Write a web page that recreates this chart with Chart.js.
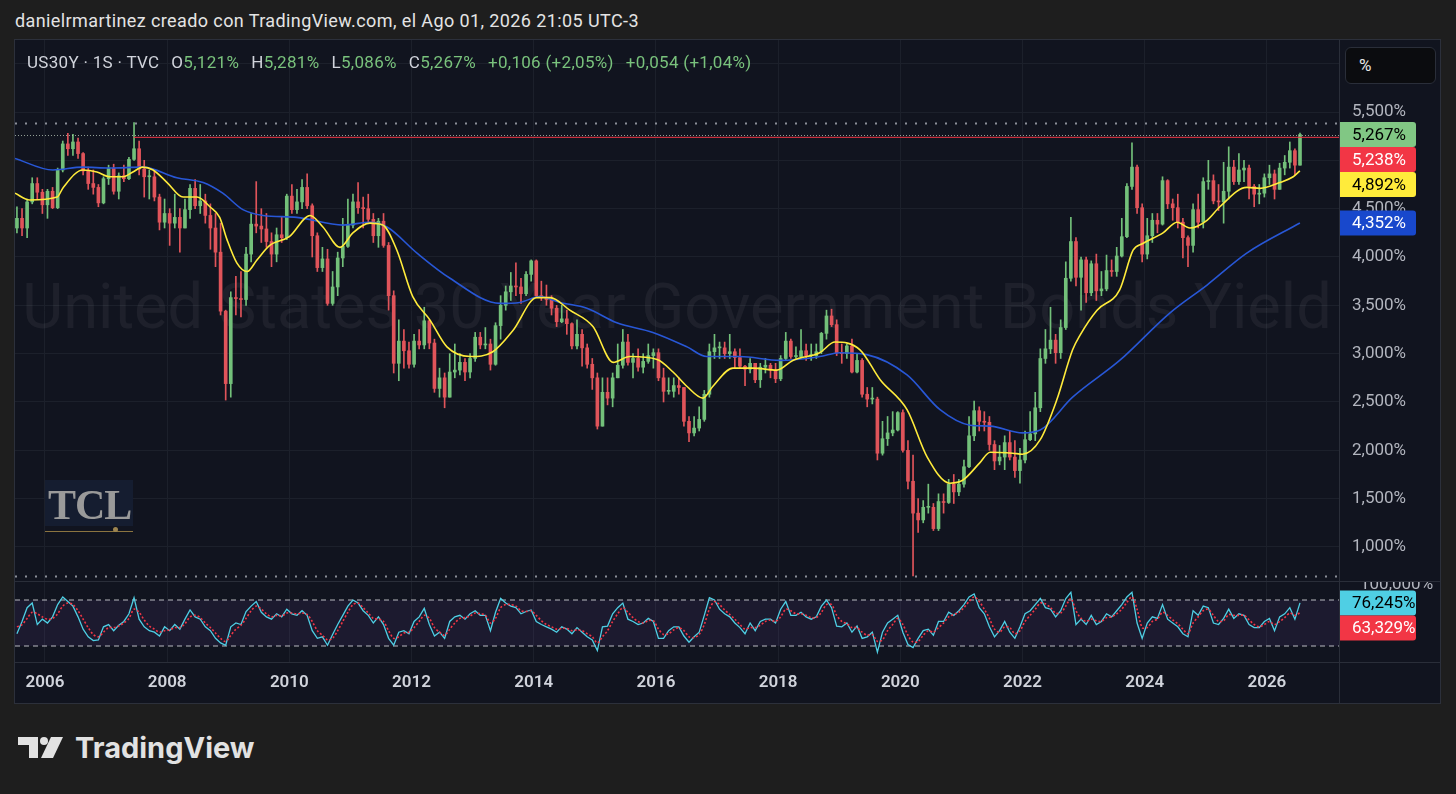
<!DOCTYPE html>
<html>
<head>
<meta charset="utf-8">
<script src="https://cdn.jsdelivr.net/npm/chart.js@4.4.1/dist/chart.umd.min.js"></script>
<style>
body{margin:0;background:#1e1e1e;width:1456px;height:794px;overflow:hidden;position:relative;font-family:Roboto,'Noto Sans',sans-serif}
#hdr{position:absolute;left:15px;top:10px;color:#e4e4e4;font-size:18px;letter-spacing:0.4px;white-space:nowrap}
#frame{position:absolute;left:14px;top:39px;width:1425px;height:663px;border:1px solid #2c303b;background:#11141f}
#main{position:absolute;left:0;top:0}
#rsi{position:absolute;left:0;top:542px}
.sep{position:absolute;background:#2a2e39}
#legend{position:absolute;left:12px;top:12px;font-size:17px;letter-spacing:0.3px;color:#d1d4dc;white-space:nowrap}
#legend span{margin-left:12px}
#legend span:first-child{margin-left:0}
#legend .g{color:#79c27c;font-style:normal}
#pct{position:absolute;left:1330px;top:7px;width:91px;height:37px;box-sizing:border-box;background:#0b0c0f;border:1px solid #2a2e39;border-radius:6px;color:#e6e6e6;font-size:17px;line-height:35px;padding-left:13px}
#tcl{position:absolute;left:30px;top:440px;width:88px;height:46px;background:#151d30}
#tcl b{position:absolute;left:3px;top:1px;font:bold 42px 'Liberation Serif',serif;color:#9a9a9a;letter-spacing:-1px}
#tclline{position:absolute;left:30px;top:491px;width:88px;height:1px;background:#8b7440}
#tcldot{position:absolute;left:98px;top:487px;width:5px;height:5px;border-radius:50%;background:#9c8450}
#tv{position:absolute;left:17px;top:733px}
</style>
</head>
<body>
<div id="hdr">danielrmartinez creado con TradingView.com, el Ago 01, 2026 21:05 UTC-3</div>
<div id="frame">
  <canvas id="main" width="1425" height="541"></canvas>
  <canvas id="rsi" width="1425" height="120"></canvas>
  <div class="sep" style="left:0;top:541px;width:1425px;height:1px"></div>
  <div class="sep" style="left:0;top:622px;width:1425px;height:1px"></div>
  <div class="sep" style="left:1324px;top:0;width:1px;height:663px"></div>
  <div id="legend"><span>US30Y · 1S · TVC</span><span>O<i class="g">5,121%</i></span><span>H<i class="g">5,281%</i></span><span>L<i class="g">5,086%</i></span><span>C<i class="g">5,267%</i></span><span class="g">+0,106 (+2,05%)</span><span class="g">+0,054 (+1,04%)</span></div>
  <div id="pct">%</div>
  <div id="tcl"><b>TCL</b></div>
  <div id="tclline"></div>
  <div id="tcldot"></div>
</div>
<svg id="tv" width="250" height="34" viewBox="0 0 250 34">
  <rect x="1" y="4" width="20" height="8" fill="#e2e2e2"/>
  <rect x="12" y="4" width="9" height="21" fill="#e2e2e2"/>
  <circle cx="27" cy="8" r="4" fill="#e2e2e2"/>
  <polygon points="34,4 46,4 36,25 24,25" fill="#e2e2e2"/>
  <text x="58" y="25" font-family="Inter, Roboto, sans-serif" font-weight="700" font-size="29" fill="#e2e2e2">TradingView</text>
</svg>
<script>
// monthly candles, Jul 2005 .. Jul 2026
const firstMonth = 2005 + 6 / 12;
const firstOpen = 4.30;
const closes = [
  4.40, 4.30, 4.57, 4.76, 4.67, 4.54,
  4.68, 4.51, 4.90, 5.17, 5.12, 5.19, 5.07, 4.89, 4.76, 4.72, 4.56, 4.81,
  4.92, 4.68, 4.84, 4.81, 5.01, 5.12, 4.91, 4.83, 4.83, 4.62, 4.36, 4.45,
  4.35, 4.41, 4.30, 4.49, 4.71, 4.53, 4.58, 4.43, 4.30, 4.05, 3.44, 2.69,
  3.58, 3.57, 3.56, 4.03, 4.34, 4.32, 4.29, 4.16, 4.03, 4.23, 4.20, 4.63,
  4.49, 4.57, 4.72, 4.53, 4.22, 3.89, 3.98, 3.52, 3.69, 3.99, 4.11, 4.33,
  4.57, 4.51, 4.50, 4.39, 4.22, 4.37, 4.12, 3.60, 2.90, 3.13, 3.03, 2.89,
  3.13, 3.09, 3.34, 3.11, 2.64, 2.75, 2.55, 2.81, 2.83, 2.91, 2.81, 2.95,
  3.17, 3.09, 3.10, 2.89, 3.29, 3.50, 3.64, 3.70, 3.69, 3.62, 3.82, 3.96,
  3.60, 3.58, 3.56, 3.47, 3.33, 3.36, 3.31, 3.08, 3.20, 3.06, 2.89, 2.75,
  2.25, 2.60, 2.54, 2.75, 2.88, 3.12, 2.91, 2.95, 2.86, 2.92, 2.98, 3.01,
  2.75, 2.61, 2.61, 2.67, 2.65, 2.30, 2.18, 2.23, 2.32, 2.58, 3.02, 3.06,
  3.06, 3.00, 3.02, 2.96, 2.87, 2.84, 2.90, 2.73, 2.86, 2.88, 2.83, 2.74,
  2.95, 3.13, 2.97, 2.97, 3.03, 2.98, 2.98, 3.02, 3.21, 3.39, 3.30, 3.01,
  3.00, 3.08, 2.81, 2.93, 2.58, 2.53, 2.53, 1.97, 2.12, 2.18, 2.21, 2.39,
  2.00, 1.68, 1.35, 1.28, 1.41, 1.41, 1.19, 1.47, 1.46, 1.65, 1.57, 1.65,
  1.83, 2.15, 2.41, 2.30, 2.29, 2.06, 1.89, 1.93, 2.08, 1.93, 1.79, 1.90,
  2.11, 2.17, 2.44, 2.95, 3.05, 3.14, 3.01, 3.27, 3.78, 4.16, 3.79, 3.97,
  3.63, 3.93, 3.65, 3.67, 3.86, 3.85, 4.01, 4.21, 4.73, 4.93, 4.51, 4.03,
  4.22, 4.38, 4.34, 4.79, 4.55, 4.51, 4.36, 4.20, 4.12, 4.49, 4.36, 4.78,
  4.79, 4.58, 4.57, 4.68, 4.93, 4.78, 4.90, 4.92, 4.73, 4.65, 4.66, 4.82,
  4.86, 4.70, 4.92, 4.98, 5.10, 4.95, 5.267
];
const highs = [
  4.52, 4.50, 4.60, 4.82, 4.82, 4.70,
  4.70, 4.72, 4.92, 5.20, 5.28, 5.27, 5.23, 5.08, 4.93, 4.90, 4.75, 4.83,
  4.95, 4.96, 4.87, 4.95, 5.03, 5.39, 5.20, 5.00, 4.90, 4.90, 4.65, 4.60,
  4.50, 4.65, 4.50, 4.60, 4.75, 4.80, 4.75, 4.65, 4.55, 4.45, 4.35, 3.45,
  3.64, 3.80, 3.85, 4.10, 4.45, 4.78, 4.50, 4.45, 4.25, 4.30, 4.42, 4.65,
  4.75, 4.70, 4.80, 4.86, 4.55, 4.25, 4.10, 4.08, 3.85, 4.05, 4.40, 4.60,
  4.65, 4.77, 4.62, 4.65, 4.45, 4.40, 4.45, 4.15, 3.65, 3.35, 3.25, 3.12,
  3.20, 3.25, 3.48, 3.35, 3.15, 2.85, 2.80, 3.00, 3.10, 3.00, 2.95, 3.00,
  3.22, 3.22, 3.27, 3.15, 3.32, 3.60, 3.70, 3.84, 3.94, 3.78, 3.85, 3.97,
  3.97, 3.75, 3.71, 3.60, 3.50, 3.50, 3.45, 3.32, 3.35, 3.25, 3.10, 2.95,
  2.80, 2.75, 2.75, 2.80, 3.10, 3.25, 3.20, 3.00, 3.05, 3.00, 3.10, 3.05,
  3.05, 2.85, 2.75, 2.75, 2.75, 2.65, 2.35, 2.35, 2.45, 2.62, 3.10, 3.20,
  3.12, 3.12, 3.20, 3.05, 3.05, 2.88, 2.95, 2.90, 2.90, 2.95, 2.90, 2.90,
  2.98, 3.22, 3.15, 3.07, 3.25, 3.10, 3.10, 3.10, 3.22, 3.45, 3.46, 3.35,
  3.10, 3.10, 3.15, 3.00, 2.95, 2.65, 2.65, 2.55, 2.30, 2.35, 2.40, 2.40,
  2.42, 2.10, 1.95, 1.50, 1.48, 1.65, 1.45, 1.55, 1.55, 1.70, 1.75, 1.70,
  1.90, 2.35, 2.51, 2.45, 2.40, 2.35, 2.10, 2.05, 2.15, 2.20, 2.10, 2.02,
  2.20, 2.40, 2.60, 3.05, 3.25, 3.48, 3.20, 3.35, 3.95, 4.41, 4.20, 4.00,
  4.00, 3.96, 4.03, 3.85, 4.02, 3.97, 4.10, 4.40, 4.76, 5.18, 4.95, 4.55,
  4.40, 4.45, 4.45, 4.83, 4.80, 4.60, 4.65, 4.40, 4.22, 4.55, 4.65, 4.82,
  5.00, 4.85, 4.75, 4.98, 5.14, 5.00, 5.07, 5.00, 4.95, 4.75, 4.75, 4.86,
  4.95, 4.90, 4.97, 5.05, 5.19, 5.12, 5.281
];
const lows = [
  4.25, 4.22, 4.20, 4.55, 4.60, 4.45,
  4.40, 4.50, 4.50, 4.88, 5.05, 5.05, 5.02, 4.85, 4.70, 4.65, 4.52, 4.55,
  4.75, 4.65, 4.60, 4.78, 4.80, 5.00, 4.85, 4.62, 4.60, 4.58, 4.28, 4.30,
  4.12, 4.30, 4.05, 4.30, 4.40, 4.50, 4.45, 4.35, 4.08, 3.90, 3.40, 2.52,
  2.55, 3.40, 3.38, 3.50, 3.95, 4.25, 4.15, 4.10, 3.90, 3.95, 4.15, 4.18,
  4.45, 4.45, 4.50, 4.50, 4.00, 3.85, 3.85, 3.50, 3.50, 3.60, 3.90, 4.10,
  4.30, 4.45, 4.30, 4.35, 4.15, 4.10, 4.10, 3.45, 2.80, 2.72, 2.85, 2.85,
  2.86, 3.05, 3.05, 3.05, 2.60, 2.55, 2.44, 2.55, 2.75, 2.78, 2.72, 2.75,
  2.92, 3.05, 3.05, 2.83, 2.88, 3.15, 3.45, 3.55, 3.60, 3.52, 3.60, 3.75,
  3.58, 3.55, 3.50, 3.40, 3.28, 3.32, 3.20, 3.05, 3.05, 2.87, 2.85, 2.63,
  2.22, 2.25, 2.47, 2.45, 2.75, 2.85, 2.88, 2.75, 2.82, 2.80, 2.90, 2.85,
  2.72, 2.50, 2.58, 2.55, 2.58, 2.25, 2.09, 2.15, 2.20, 2.30, 2.55, 2.95,
  2.95, 2.95, 2.95, 2.85, 2.85, 2.67, 2.80, 2.70, 2.65, 2.80, 2.75, 2.70,
  2.72, 2.93, 2.95, 2.95, 2.95, 2.93, 2.93, 2.95, 3.00, 3.15, 3.28, 2.98,
  2.90, 2.95, 2.80, 2.80, 2.55, 2.45, 2.48, 1.90, 1.95, 2.05, 2.15, 2.20,
  1.98, 1.60, 0.70, 1.15, 1.25, 1.35, 1.17, 1.17, 1.35, 1.45, 1.45, 1.53,
  1.62, 1.82, 2.10, 2.20, 2.20, 2.00, 1.80, 1.85, 1.80, 1.90, 1.72, 1.66,
  1.87, 2.10, 2.10, 2.40, 2.90, 3.00, 2.90, 2.95, 3.25, 3.75, 3.70, 3.45,
  3.53, 3.60, 3.55, 3.60, 3.65, 3.80, 3.80, 4.00, 4.20, 4.70, 4.45, 3.95,
  3.98, 4.15, 4.25, 4.33, 4.50, 4.38, 4.30, 3.99, 3.90, 4.05, 4.30, 4.30,
  4.70, 4.55, 4.48, 4.35, 4.60, 4.75, 4.75, 4.78, 4.60, 4.52, 4.55, 4.62,
  4.75, 4.60, 4.70, 4.85, 4.92, 4.85, 4.95
];

// moving averages (yellow ~50, blue ~200 periods)
const yellowYears = [2005.51, 2005.75, 2006.2, 2006.3, 2006.62, 2006.85, 2007.06, 2007.28, 2007.44, 2007.6,
  2007.77, 2008.0, 2008.26, 2008.49, 2008.7, 2008.86, 2008.98, 2009.14, 2009.31, 2009.47,
  2009.68, 2010.0, 2010.34, 2010.55, 2010.83, 2011.04, 2011.32, 2011.53, 2011.76, 2012.02,
  2012.3, 2012.58, 2012.96, 2013.33, 2013.66, 2014.05, 2014.27, 2014.59, 2014.97, 2015.3,
  2015.57, 2016.02, 2016.28, 2016.51, 2016.77, 2016.93, 2017.26, 2017.59, 2017.98, 2018.24,
  2018.68, 2018.93, 2019.34, 2019.67, 2020.11, 2020.44, 2020.81, 2021.02, 2021.3, 2021.47,
  2021.84, 2022.0, 2022.29, 2022.56, 2022.82, 2022.94, 2023.22, 2023.59, 2023.81, 2023.97,
  2024.3, 2024.53, 2024.74, 2025.02, 2025.23, 2025.67, 2025.89, 2026.21, 2026.43, 2026.54];
const yellowMA = [4.66, 4.59, 4.62, 4.72, 4.90, 4.88, 4.83, 4.83, 4.88, 4.93,
  4.90, 4.77, 4.62, 4.62, 4.52, 4.41, 4.18, 3.94, 3.85, 3.97,
  4.12, 4.21, 4.43, 4.31, 4.10, 4.25, 4.35, 4.33, 4.07, 3.59,
  3.35, 3.07, 2.97, 3.02, 3.24, 3.58, 3.58, 3.45, 3.28, 2.91,
  2.97, 2.94, 2.81, 2.66, 2.54, 2.66, 2.85, 2.85, 2.83, 2.93,
  3.01, 3.12, 3.04, 2.73, 2.42, 1.93, 1.66, 1.69, 1.87, 1.98,
  1.97, 1.96, 2.11, 2.52, 3.04, 3.19, 3.45, 3.66, 4.07, 4.14,
  4.25, 4.36, 4.30, 4.38, 4.52, 4.72, 4.71, 4.77, 4.83, 4.892];
const blueYears = [2005.51, 2006.13, 2006.62, 2007.06, 2007.6, 2008.16, 2008.59, 2008.91, 2009.24, 2009.57,
  2010.12, 2010.88, 2011.32, 2011.6, 2012.09, 2012.63, 2013.45, 2013.77, 2014.1, 2014.43,
  2014.87, 2015.36, 2015.95, 2016.51, 2016.83, 2017.37, 2018.03, 2018.68, 2019.01, 2019.45,
  2020.11, 2020.65, 2021.14, 2021.47, 2022.0, 2022.29, 2022.82, 2023.59, 2024.41, 2025.02,
  2025.67, 2026.54];
const blueMA = [5.02, 4.90, 4.93, 4.92, 4.93, 4.82, 4.77, 4.66, 4.49, 4.43,
  4.41, 4.33, 4.36, 4.31, 4.04, 3.78, 3.52, 3.53, 3.59, 3.53,
  3.47, 3.32, 3.22, 3.07, 2.97, 2.97, 2.93, 2.97, 3.01, 2.99,
  2.78, 2.42, 2.26, 2.25, 2.18, 2.21, 2.55, 2.93, 3.42, 3.71,
  4.04, 4.352];

// horizontal ray drawn from the 2007 top
const rayStart = 2007.45;
const rayLevel = 5.238;

// lower pane oscillator, one value per month, and its signal line
const rsiValues = [
  36, 52, 70, 76, 48, 55,
  50, 58, 74, 84, 78, 72, 58, 42, 32, 27, 28, 45,
  48, 40, 47, 52, 62, 83, 55, 45, 40, 38, 33, 45,
  40, 48, 42, 55, 67, 58, 55, 45, 40, 30, 24, 21,
  45, 50, 48, 65, 72, 78, 64, 58, 55, 62, 58, 68,
  62, 60, 66, 60, 40, 30, 32, 21, 35, 48, 60, 72,
  80, 76, 66, 60, 50, 58, 48, 30, 21, 38, 40, 36,
  52, 58, 69, 48, 33, 38, 30, 52, 58, 60, 55, 62,
  66, 60, 60, 40, 64, 82, 76, 72, 70, 62, 65, 67,
  52, 48, 45, 42, 38, 45, 42, 36, 44, 38, 32, 28,
  14, 45, 46, 62, 70, 76, 55, 52, 48, 50, 56, 52,
  30, 30, 40, 45, 45, 33, 25, 32, 38, 60, 83, 80,
  68, 62, 58, 50, 44, 36, 50, 40, 52, 55, 55, 50,
  68, 78, 60, 60, 64, 58, 55, 58, 72, 80, 70, 46,
  45, 50, 38, 46, 30, 32, 38, 12, 38, 50, 55, 60,
  38, 22, 18, 30, 40, 42, 34, 52, 52, 64, 60, 66,
  74, 84, 88, 70, 62, 45, 32, 40, 52, 38, 30, 45,
  62, 66, 74, 82, 70, 68, 58, 66, 82, 90, 48, 55,
  48, 60, 48, 52, 62, 58, 66, 74, 84, 90, 50, 30,
  50, 58, 56, 74, 55, 50, 45, 36, 32, 66, 60, 72,
  70, 50, 48, 56, 68, 56, 62, 60, 48, 44, 44, 52,
  56, 40, 58, 62, 70, 55, 76.245
];
const rsiSignal = [
  45, 48, 56, 64, 62, 58,
  55, 56, 62, 72, 76, 74, 66, 55, 44, 35, 32, 38,
  44, 44, 46, 50, 56, 68, 64, 54, 46, 42, 38, 40,
  41, 44, 44, 49, 58, 60, 57, 50, 44, 37, 30, 26,
  34, 42, 47, 56, 66, 72, 68, 62, 58, 60, 59, 63,
  63, 62, 63, 61, 52, 40, 34, 28, 30, 40, 52, 64,
  74, 76, 70, 63, 56, 55, 52, 40, 30, 32, 37, 38,
  44, 52, 60, 56, 44, 38, 34, 42, 50, 56, 57, 59,
  63, 62, 60, 50, 56, 70, 74, 74, 72, 66, 65, 66,
  60, 53, 48, 45, 42, 43, 43, 40, 41, 40, 36, 32,
  24, 32, 40, 52, 62, 70, 64, 57, 52, 50, 53, 53,
  42, 35, 36, 41, 44, 40, 32, 31, 35, 48, 68, 78,
  74, 67, 61, 55, 48, 42, 44, 44, 47, 52, 54, 52,
  58, 68, 66, 62, 62, 60, 57, 57, 64, 74, 74, 60,
  52, 49, 44, 44, 38, 34, 35, 26, 28, 40, 48, 56,
  48, 34, 25, 26, 34, 40, 38, 44, 50, 58, 61, 64,
  70, 78, 84, 78, 68, 56, 42, 38, 45, 44, 36, 40,
  52, 60, 68, 76, 75, 70, 63, 63, 72, 82, 66, 56,
  52, 55, 53, 52, 57, 58, 62, 68, 77, 84, 68, 44,
  44, 52, 55, 64, 60, 54, 49, 42, 36, 50, 58, 66,
  68, 60, 52, 53, 61, 60, 60, 60, 54, 48, 45, 48,
  52, 48, 52, 57, 63, 60, 63.329
];
const rsiUpper = 80;
const rsiLower = 20;

const months = closes.map((c, i) => firstMonth + (i + 0.5) / 12);
const opens = closes.map((c, i) => i ? closes[i - 1] : firstOpen);

const xMin = 2005.51, xMax = 2027.18;
const FONT = "Roboto, 'Noto Sans', sans-serif";
const gridColor = '#1c202b';
const up = '#73c07a', down = '#e0545a';
const candleColor = ctx => closes[ctx.dataIndex] >= opens[ctx.dataIndex] ? up : down;
const pct = v => v.toFixed(3).replace('.', ',') + '%';

// chart area must fill the canvas exactly
const noPadY = s => { s.width = 101; s.paddingTop = 0; s.paddingBottom = 0; };
const noPadX = h => s => { s.height = h; s.paddingLeft = 0; s.paddingRight = 0; };

function drawTags(chart, tags) {
  const ctx = chart.ctx, x = chart.chartArea.right, h = 25, w = 77;
  let prev = -1e9;
  tags.map(t => ({...t, y: chart.scales.y.getPixelForValue(t.v)}))
    .sort((a, b) => a.y - b.y)
    .forEach(t => {
      const y = Math.max(t.y, prev + h, h / 2 + 8);
      prev = y;
      ctx.save();
      ctx.fillStyle = t.bg;
      ctx.beginPath();
      ctx.roundRect(x, y - h / 2, w, h, [0, 3, 3, 0]);
      ctx.fill();
      ctx.fillStyle = t.fg;
      ctx.font = '17px ' + FONT;
      ctx.textBaseline = 'middle';
      ctx.fillText(pct(t.v), x + 13, y + 1);
      ctx.restore();
    });
}

function dotLine(ctx, area, y, dash, width, color) {
  ctx.save();
  ctx.strokeStyle = color;
  ctx.lineWidth = width;
  ctx.setLineDash(dash);
  ctx.beginPath();
  ctx.moveTo(area.left, Math.round(y) + 0.5);
  ctx.lineTo(area.right, Math.round(y) + 0.5);
  ctx.stroke();
  ctx.restore();
}

const mainOverlay = {
  id: 'mainOverlay',
  beforeDatasetsDraw(chart) {
    const {ctx, chartArea: a} = chart;
    const text = 'United States 30 Year Government Bonds Yield';
    ctx.save();
    ctx.font = '100px ' + FONT;
    const size = 100 * (a.width - 14) / ctx.measureText(text).width;
    ctx.font = size + 'px ' + FONT;
    ctx.fillStyle = 'rgba(255,255,255,0.055)';
    ctx.textAlign = 'center';
    ctx.textBaseline = 'middle';
    ctx.fillText(text, (a.left + a.right) / 2, (a.top + a.bottom) / 2 + 2);
    ctx.restore();
  },
  afterDatasetsDraw(chart) {
    const {ctx, chartArea: a, scales: {y}} = chart;
    dotLine(ctx, a, y.getPixelForValue(Math.max(...highs)), [2, 8], 2, '#8c8f99');
    dotLine(ctx, a, y.getPixelForValue(Math.min(...lows)), [2, 8], 2, '#8c8f99');
    dotLine(ctx, a, y.getPixelForValue(closes[closes.length - 1]), [1, 2], 1, 'rgba(190,205,190,0.75)');
  },
  afterDraw(chart) {
    drawTags(chart, [
      {v: closes[closes.length - 1], bg: '#81c784', fg: '#000'},
      {v: rayLevel, bg: '#f23645', fg: '#fff'},
      {v: yellowMA[yellowMA.length - 1], bg: '#ffeb3b', fg: '#000'},
      {v: blueMA[blueMA.length - 1], bg: '#1848cc', fg: '#fff'}
    ]);
  }
};

new Chart(document.getElementById('main'), {
  type: 'bar',
  data: {
    datasets: [
      {type: 'line', data: yellowYears.map((x, i) => ({x, y: yellowMA[i]})), borderColor: '#ffeb3b', borderWidth: 1.6,
        pointRadius: 0, cubicInterpolationMode: 'monotone', order: 0},
      {type: 'line', data: blueYears.map((x, i) => ({x, y: blueMA[i]})), borderColor: '#2857d6', borderWidth: 1.6,
        pointRadius: 0, cubicInterpolationMode: 'monotone', order: 0},
      {type: 'line', data: [{x: rayStart, y: rayLevel}, {x: xMax, y: rayLevel}], borderColor: '#f23645', borderWidth: 1,
        pointRadius: 0, order: 1},
      {data: months.map((x, i) => ({x, y: [lows[i], highs[i]]})), backgroundColor: candleColor,
        barThickness: 1, grouped: false, order: 3},
      {data: months.map((x, i) => ({x, y: [opens[i], closes[i]]})), backgroundColor: candleColor,
        barThickness: 3, minBarLength: 1, grouped: false, order: 2}
    ]
  },
  options: {
    responsive: false,
    animation: false,
    layout: {padding: 0, autoPadding: false},
    plugins: {legend: {display: false}, tooltip: {enabled: false}},
    scales: {
      x: {
        type: 'linear', min: xMin, max: xMax, offset: false,
        ticks: {display: false, stepSize: 2, includeBounds: false, autoSkip: false},
        grid: {color: gridColor, drawTicks: false, offset: false},
        border: {display: false},
        afterFit: noPadX(0)
      },
      y: {
        position: 'right', min: 0.648, max: 6.245,
        ticks: {stepSize: 0.5, includeBounds: false, padding: 13, color: '#b2b5be', font: {family: FONT, size: 17}, callback: v => pct(v)},
        grid: {color: gridColor, drawTicks: false},
        border: {display: false},
        afterFit: noPadY
      }
    }
  },
  plugins: [mainOverlay]
});

const rsiOverlay = {
  id: 'rsiOverlay',
  afterDraw(chart) {
    drawTags(chart, [
      {v: rsiValues[rsiValues.length - 1], bg: '#4fcfe4', fg: '#000'},
      {v: rsiSignal[rsiSignal.length - 1], bg: '#f23645', fg: '#fff'}
    ]);
  }
};

const bandStyle = {borderColor: 'rgba(215,215,220,0.85)', borderWidth: 1, borderDash: [5, 4], pointRadius: 0, order: 5};

new Chart(document.getElementById('rsi'), {
  type: 'line',
  data: {
    datasets: [
      {...bandStyle, data: [{x: xMin, y: rsiUpper}, {x: xMax, y: rsiUpper}]},
      {...bandStyle, data: [{x: xMin, y: rsiLower}, {x: xMax, y: rsiLower}], fill: '-1', backgroundColor: 'rgba(126,87,194,0.1)'},
      {data: months.map((x, i) => ({x, y: rsiSignal[i]})), borderColor: '#f23645', borderWidth: 1.6, borderDash: [2, 2],
        pointRadius: 0, tension: 0.3, order: 1},
      {data: months.map((x, i) => ({x, y: rsiValues[i]})), borderColor: '#4fcfe4', borderWidth: 1.3, pointRadius: 0, order: 2}
    ]
  },
  options: {
    responsive: false,
    animation: false,
    layout: {padding: 0, autoPadding: false},
    plugins: {legend: {display: false}, tooltip: {enabled: false}},
    scales: {
      x: {
        type: 'linear', min: xMin, max: xMax, offset: false,
        ticks: {stepSize: 2, includeBounds: false, autoSkip: false, maxRotation: 0, padding: 11,
          color: '#d1d4dc', font: {family: FONT, size: 17, weight: '600'}, callback: v => String(v)},
        grid: {color: gridColor, drawTicks: false},
        border: {display: false},
        afterFit: noPadX(40)
      },
      y: {
        position: 'right', min: -0.87, max: 103.48,
        afterBuildTicks: s => { s.ticks = [{value: 100}]; },
        ticks: {padding: 13, color: '#b2b5be', font: {family: FONT, size: 17}, callback: v => pct(v)},
        grid: {display: false},
        border: {display: false},
        afterFit: noPadY
      }
    }
  },
  plugins: [rsiOverlay]
});
</script>
</body>
</html>
